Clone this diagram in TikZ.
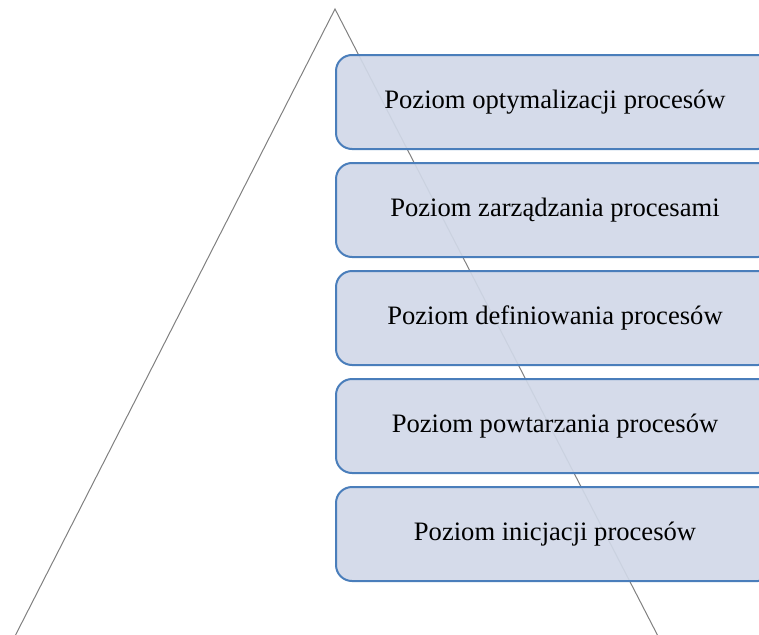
\documentclass[tikz,border=0pt]{standalone}
\usepackage{fontspec}
\setmainfont{Liberation Serif}
\definecolor{levelfill}{RGB}{209,216,232}
\definecolor{levelline}{RGB}{74,126,187}
\definecolor{pyramidline}{RGB}{128,128,128}
\begin{document}
\begin{tikzpicture}[x=1pt,y=-1pt,
  level/.style={draw=levelline, line width=2pt, fill=levelfill, fill opacity=0.92,
    text opacity=1, rounded corners=16pt, minimum width=438pt, minimum height=94pt,
    inner sep=0pt, anchor=north west,
    font=\fontsize{26.6}{30}\selectfont},
  pyramid/.style={draw=pyramidline, line width=1pt}]
\useasboundingbox (0,0) rectangle (759,634);
\clip (0,0) rectangle (759,634);
% pyramid outline
\coordinate (apex) at (335,9);
\coordinate (baseL) at (13,640);
\coordinate (baseR) at (660,640);
\draw[pyramid] (baseL) -- (apex) -- (baseR);
% process maturity levels
\node[level] (l5) at (335,54)  {\makebox[438pt]{Poziom optymalizacji procesów}};
\node[level] (l4) at (335,162) {\makebox[438pt]{Poziom zarządzania procesami}};
\node[level] (l3) at (335,270) {\makebox[438pt]{Poziom definiowania procesów}};
\node[level] (l2) at (335,378) {\makebox[438pt]{Poziom powtarzania procesów}};
\node[level] (l1) at (335,486) {\makebox[438pt]{Poziom inicjacji procesów}};
\end{tikzpicture}
\end{document}
